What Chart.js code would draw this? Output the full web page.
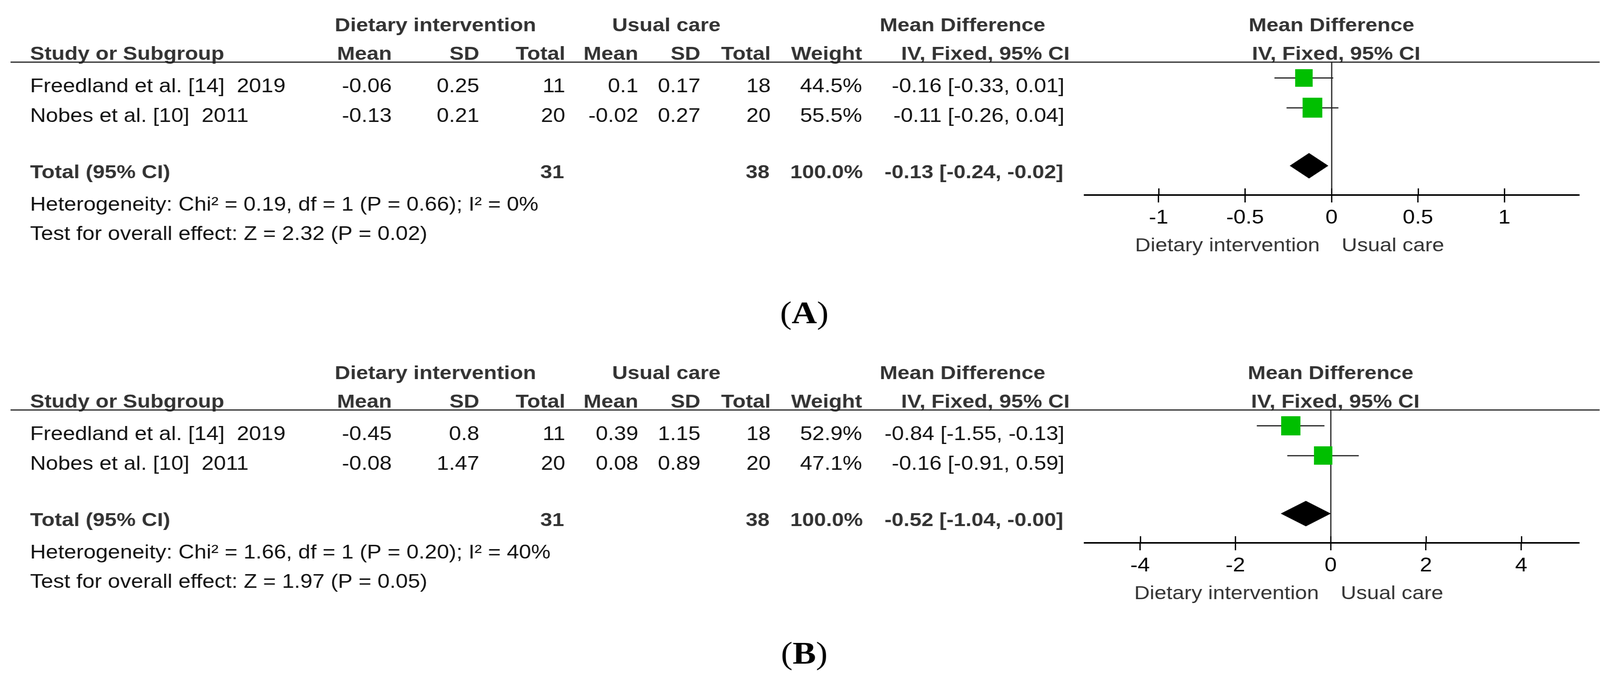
<!DOCTYPE html>
<html>
<head>
<meta charset="utf-8">
<title>Forest plots</title>
<script src="https://cdn.jsdelivr.net/npm/chart.js@4.4.1/dist/chart.umd.min.js"></script>
<style>
html, body { margin: 0; padding: 0; background: #fff; }
canvas { display: block; }
</style>
</head>
<body>
<canvas id="panelA" width="3671" height="880" style="width:4112px;height:880px"></canvas>
<canvas id="panelB" width="3671" height="865" style="width:4112px;height:865px"></canvas>
<script>
// study rows
var studies = ['Freedland et al. [14]  2019', 'Nobes et al. [10]  2011'];

// panel A
var dietMeanA = [-0.06, -0.13];
var dietSdA = [0.25, 0.21];
var dietNA = [11, 20];
var careMeanA = [0.1, -0.02];
var careSdA = [0.17, 0.27];
var careNA = [18, 20];
var weightA = [44.5, 55.5];
var mdA = [-0.16, -0.11];
var loA = [-0.33, -0.26];
var hiA = [0.01, 0.04];
var totalA = [-0.13, -0.24, -0.02];   // md, lo, hi
var ticksA = [-1, -0.5, 0, 0.5, 1];
var rangeA = [-1.427, 1.431];
var hetA = 'Heterogeneity: Chi\u00b2 = 0.19, df = 1 (P = 0.66); I\u00b2 = 0%';
var testA = 'Test for overall effect: Z = 2.32 (P = 0.02)';

// panel B
var dietMeanB = [-0.45, -0.08];
var dietSdB = [0.8, 1.47];
var dietNB = [11, 20];
var careMeanB = [0.39, 0.08];
var careSdB = [1.15, 0.89];
var careNB = [18, 20];
var weightB = [52.9, 47.1];
var mdB = [-0.84, -0.16];
var loB = [-1.55, -0.91];
var hiB = [-0.13, 0.59];
var totalB = [-0.52, -1.04, -0.004];
var ticksB = [-4, -2, 0, 2, 4];
var rangeB = [-5.16, 5.21];
var hetB = 'Heterogeneity: Chi\u00b2 = 1.66, df = 1 (P = 0.20); I\u00b2 = 40%';
var testB = 'Test for overall effect: Z = 1.97 (P = 0.05)';

// canvas is drawn narrower and stretched, the source text is wide
var CW = 3671, SX = 4112 / CW;
function X(x) { return x / SX; }
var SANS = '"Liberation Sans", Arial, Helvetica, sans-serif';
var SERIF = '"Liberation Serif", "Times New Roman", serif';
var GREEN = '#00bf00';
var AXIS_H = 110;

var colRight = [1003, 1227, 1447, 1634, 1793, 1973, 2207];
var ciRight = 2725;
var rowText = [236, 312];
var rows = [0.53, 1.53], totalRow = 3.47, diaH = 0.42;

function put(ctx, s, x, y, align, font, color) {
    ctx.font = font;
    ctx.textAlign = align;
    ctx.textBaseline = 'alphabetic';
    ctx.fillStyle = color;
    ctx.fillText(s, x, y);
}

function ci(md, lo, hi) {
    return md.toFixed(2) + ' [' + lo.toFixed(2) + ', ' + hi.toFixed(2) + ']';
}

function sum(a) { return a.reduce(function (s, v) { return s + v; }, 0); }

function box(side) {
    var c = document.createElement('canvas');
    c.width = Math.round(side / SX);
    c.height = Math.round(side);
    var g = c.getContext('2d');
    g.fillStyle = GREEN;
    g.fillRect(0, 0, c.width, c.height);
    return c;
}

function tablePlugin(p) {
    return {
        id: 'table' + p.name,
        afterDraw: function (chart) {
            var ctx = chart.ctx, xs = chart.scales.x, dy = p.dy;
            var reg = '50px ' + SANS, bold = 'bold 49px ' + SANS;
            var zero = xs.getPixelForValue(0);
            ctx.save();

            put(ctx, 'Dietary intervention', X(857), 80 + dy, 'left', bold, '#333');
            put(ctx, 'Usual care', X(1567), 80 + dy, 'left', bold, '#333');
            put(ctx, 'Mean Difference', X(2252), 80 + dy, 'left', bold, '#333');
            put(ctx, 'Mean Difference', zero, 80 + dy, 'center', bold, '#333');

            put(ctx, 'Study or Subgroup', X(77), 153 + dy, 'left', bold, '#333');
            ['Mean', 'SD', 'Total', 'Mean', 'SD', 'Total', 'Weight'].forEach(function (h, i) {
                put(ctx, h, X(colRight[i]), 153 + dy, 'right', bold, '#333');
            });
            put(ctx, 'IV, Fixed, 95% CI', X(2307), 153 + dy, 'left', bold, '#333');
            put(ctx, 'IV, Fixed, 95% CI', zero + X(12), 153 + dy, 'center', bold, '#333');

            ctx.fillStyle = '#222';
            ctx.fillRect(X(27), 157.5 + dy, X(4095) - X(27), 3);

            studies.forEach(function (name, i) {
                var y = rowText[i] + dy;
                put(ctx, name, X(77), y, 'left', reg, '#111');
                var cells = [p.dMean[i], p.dSd[i], p.dN[i], p.cMean[i], p.cSd[i], p.cN[i], p.w[i].toFixed(1) + '%'];
                cells.forEach(function (c, k) {
                    put(ctx, String(c), X(colRight[k]), y, 'right', reg, '#111');
                });
                put(ctx, ci(p.md[i], p.lo[i], p.hi[i]), X(ciRight), y, 'right', reg, '#111');
            });

            var ty = 456 + dy;
            put(ctx, 'Total (95% CI)', X(77), ty, 'left', bold, '#333');
            put(ctx, String(sum(p.dN)), X(colRight[2] - 3), ty, 'right', bold, '#333');
            put(ctx, String(sum(p.cN)), X(colRight[5] - 3), ty, 'right', bold, '#333');
            put(ctx, sum(p.w).toFixed(1) + '%', X(colRight[6] + 2), ty, 'right', bold, '#333');
            put(ctx, ci(p.total[0], p.total[1], p.total[2]), X(ciRight - 3), ty, 'right', bold, '#333');

            put(ctx, p.het, X(77), 539 + dy, 'left', reg, '#111');
            put(ctx, p.test, X(77), 614 + dy, 'left', reg, '#111');

            put(ctx, 'Dietary intervention', zero - X(30), 643 + dy, 'right', '49px ' + SANS, '#333');
            put(ctx, 'Usual care', zero + X(26), 643 + dy, 'left', '49px ' + SANS, '#333');

            // tick marks also rise above the axis
            var base = chart.chartArea.bottom;
            ctx.strokeStyle = '#000';
            ctx.lineWidth = 3;
            xs.ticks.forEach(function (t) {
                var px = Math.round(xs.getPixelForValue(t.value)) + 0.5;
                ctx.beginPath();
                ctx.moveTo(px, base - 17);
                ctx.lineTo(px, base);
                ctx.stroke();
            });

            // panel letter
            ctx.font = '80px ' + SERIF;
            var w1 = ctx.measureText('(').width, w3 = ctx.measureText(')').width;
            ctx.font = 'bold 80px ' + SERIF;
            var w2 = ctx.measureText(p.name).width;
            var lx = X(2059) - (w1 + w2 + w3) / 2, ly = p.labelY;
            put(ctx, '(', lx, ly, 'left', '80px ' + SERIF, '#000');
            put(ctx, p.name, lx + w1, ly, 'left', 'bold 80px ' + SERIF, '#000');
            put(ctx, ')', lx + w1 + w2, ly, 'left', '80px ' + SERIF, '#000');

            ctx.restore();
        }
    };
}

function forest(id, p) {
    var canvas = document.getElementById(id);
    var H = canvas.height;
    var squares = p.md.map(function (v, i) { return { x: v, y: rows[i] }; });
    var datasets = [{
        type: 'scatter',
        data: squares,
        pointStyle: function (c) { return box(6.8 * Math.sqrt(p.w[c.dataIndex])); },
        pointRadius: 20,
        pointHoverRadius: 20
    }];
    p.md.forEach(function (v, i) {
        datasets.push({
            type: 'line',
            data: [{ x: p.lo[i], y: rows[i] }, { x: p.hi[i], y: rows[i] }],
            borderColor: '#222',
            borderWidth: 3,
            pointRadius: 0,
            fill: false
        });
    });
    var t = p.total;
    datasets.push({
        type: 'line',
        data: [
            { x: t[1], y: totalRow },
            { x: t[0], y: totalRow - diaH },
            { x: t[2], y: totalRow },
            { x: t[0], y: totalRow + diaH },
            { x: t[1], y: totalRow }
        ],
        borderColor: '#000',
        borderWidth: 1,
        backgroundColor: '#000',
        fill: 'shape',
        pointRadius: 0,
        tension: 0
    });

    return new Chart(canvas.getContext('2d'), {
        type: 'scatter',
        data: { datasets: datasets },
        plugins: [tablePlugin(p)],
        options: {
            responsive: false,
            animation: false,
            devicePixelRatio: 1,
            layout: {
                padding: {
                    left: X(2777),
                    right: CW - X(4042),
                    top: 159 + p.dy,
                    bottom: H - (499 + p.dy) - AXIS_H
                }
            },
            plugins: {
                legend: { display: false },
                tooltip: { enabled: false }
            },
            scales: {
                x: {
                    type: 'linear',
                    min: p.range[0],
                    max: p.range[1],
                    afterBuildTicks: function (axis) {
                        axis.ticks = p.ticks.map(function (v) { return { value: v }; });
                    },
                    afterFit: function (axis) { axis.height = AXIS_H; },
                    border: { display: true, color: '#000', width: 4 },
                    grid: {
                        drawOnChartArea: true,
                        color: function (c) {
                            return c.tick && c.tick.value === 0 ? '#333' : 'rgba(0,0,0,0)';
                        },
                        lineWidth: 3,
                        tickColor: '#000',
                        tickWidth: 3,
                        tickLength: 19
                    },
                    ticks: {
                        font: { family: SANS, size: 50 },
                        color: '#000',
                        padding: 10,
                        callback: function (v) { return String(v); }
                    }
                },
                y: {
                    type: 'linear',
                    display: false,
                    min: 0,
                    max: 4.45,
                    reverse: true
                }
            }
        }
    });
}

forest('panelA', {
    name: 'A', dy: 0, labelY: 827,
    dMean: dietMeanA, dSd: dietSdA, dN: dietNA,
    cMean: careMeanA, cSd: careSdA, cN: careNA,
    w: weightA, md: mdA, lo: loA, hi: hiA, total: totalA,
    ticks: ticksA, range: rangeA, het: hetA, test: testA
});

forest('panelB', {
    name: 'B', dy: 10, labelY: 818,
    dMean: dietMeanB, dSd: dietSdB, dN: dietNB,
    cMean: careMeanB, cSd: careSdB, cN: careNB,
    w: weightB, md: mdB, lo: loB, hi: hiB, total: totalB,
    ticks: ticksB, range: rangeB, het: hetB, test: testB
});
</script>
</body>
</html>
